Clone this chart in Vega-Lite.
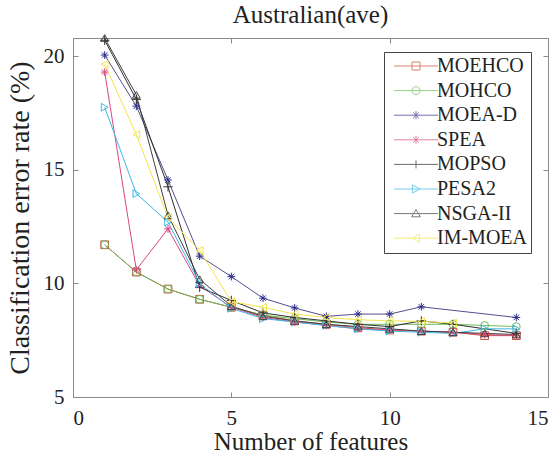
{
  "$schema": "https://vega.github.io/schema/vega-lite/v6.json",
  "width": 475,
  "height": 359,
  "autosize": {"type": "none"},
  "padding": {"left": 73, "top": 38, "right": 11, "bottom": 61},
  "background": "white",
  "title": {"text": "Australian(ave)", "font": "Liberation Serif", "fontSize": 25, "fontWeight": "normal", "color": "#222222", "offset": 5},
  "config": {
    "view": {"stroke": "#8a8a8a", "strokeWidth": 1},
    "axis": {"grid": false, "domain": false, "tickColor": "#8a8a8a", "tickSize": -5, "labelFont": "Liberation Serif", "labelFontSize": 21, "labelColor": "#222222", "titleFont": "Liberation Serif", "titleFontSize": 25, "titleFontWeight": "normal", "titleColor": "#222222"}
  },
  "datasets": {
    "d": [
      {"a": "MOEHCO", "x": 1, "y": 11.7}, {"a": "MOEHCO", "x": 2, "y": 10.5}, {"a": "MOEHCO", "x": 3, "y": 9.75}, {"a": "MOEHCO", "x": 4, "y": 9.3}, {"a": "MOEHCO", "x": 5, "y": 8.95}, {"a": "MOEHCO", "x": 6, "y": 8.6}, {"a": "MOEHCO", "x": 7, "y": 8.35}, {"a": "MOEHCO", "x": 8, "y": 8.2}, {"a": "MOEHCO", "x": 9, "y": 8.05}, {"a": "MOEHCO", "x": 10, "y": 7.95}, {"a": "MOEHCO", "x": 11, "y": 7.9}, {"a": "MOEHCO", "x": 12, "y": 7.85}, {"a": "MOEHCO", "x": 13, "y": 7.7}, {"a": "MOEHCO", "x": 14, "y": 7.7},
      {"a": "MOHCO", "x": 1, "y": 11.7}, {"a": "MOHCO", "x": 2, "y": 10.5}, {"a": "MOHCO", "x": 3, "y": 9.75}, {"a": "MOHCO", "x": 4, "y": 9.3}, {"a": "MOHCO", "x": 5, "y": 8.95}, {"a": "MOHCO", "x": 6, "y": 8.6}, {"a": "MOHCO", "x": 7, "y": 8.45}, {"a": "MOHCO", "x": 8, "y": 8.3}, {"a": "MOHCO", "x": 9, "y": 8.2}, {"a": "MOHCO", "x": 10, "y": 8.2}, {"a": "MOHCO", "x": 11, "y": 8.2}, {"a": "MOHCO", "x": 12, "y": 8.2}, {"a": "MOHCO", "x": 13, "y": 8.15}, {"a": "MOHCO", "x": 14, "y": 8.1},
      {"a": "MOEA-D", "x": 1, "y": 20.05}, {"a": "MOEA-D", "x": 2, "y": 17.8}, {"a": "MOEA-D", "x": 3, "y": 14.55}, {"a": "MOEA-D", "x": 4, "y": 11.2}, {"a": "MOEA-D", "x": 5, "y": 10.3}, {"a": "MOEA-D", "x": 6, "y": 9.35}, {"a": "MOEA-D", "x": 7, "y": 8.92}, {"a": "MOEA-D", "x": 8, "y": 8.55}, {"a": "MOEA-D", "x": 9, "y": 8.65}, {"a": "MOEA-D", "x": 10, "y": 8.65}, {"a": "MOEA-D", "x": 11, "y": 8.97}, {"a": "MOEA-D", "x": 14, "y": 8.5},
      {"a": "SPEA", "x": 1, "y": 19.3}, {"a": "SPEA", "x": 2, "y": 10.6}, {"a": "SPEA", "x": 3, "y": 12.4}, {"a": "SPEA", "x": 4, "y": 9.9}, {"a": "SPEA", "x": 5, "y": 8.95}, {"a": "SPEA", "x": 6, "y": 8.5}, {"a": "SPEA", "x": 7, "y": 8.3}, {"a": "SPEA", "x": 8, "y": 8.15}, {"a": "SPEA", "x": 9, "y": 8.0}, {"a": "SPEA", "x": 10, "y": 7.95}, {"a": "SPEA", "x": 11, "y": 7.9}, {"a": "SPEA", "x": 12, "y": 7.85}, {"a": "SPEA", "x": 13, "y": 7.75}, {"a": "SPEA", "x": 14, "y": 7.7},
      {"a": "MOPSO", "x": 1, "y": 20.7}, {"a": "MOPSO", "x": 2, "y": 18.1}, {"a": "MOPSO", "x": 3, "y": 14.25}, {"a": "MOPSO", "x": 4, "y": 9.83}, {"a": "MOPSO", "x": 5, "y": 9.25}, {"a": "MOPSO", "x": 6, "y": 8.7}, {"a": "MOPSO", "x": 7, "y": 8.5}, {"a": "MOPSO", "x": 8, "y": 8.35}, {"a": "MOPSO", "x": 9, "y": 8.2}, {"a": "MOPSO", "x": 10, "y": 8.1}, {"a": "MOPSO", "x": 11, "y": 8.35}, {"a": "MOPSO", "x": 12, "y": 8.2}, {"a": "MOPSO", "x": 14, "y": 7.8},
      {"a": "PESA2", "x": 1, "y": 17.75}, {"a": "PESA2", "x": 2, "y": 13.95}, {"a": "PESA2", "x": 3, "y": 12.7}, {"a": "PESA2", "x": 4, "y": 10.0}, {"a": "PESA2", "x": 5, "y": 8.9}, {"a": "PESA2", "x": 6, "y": 8.45}, {"a": "PESA2", "x": 7, "y": 8.3}, {"a": "PESA2", "x": 8, "y": 8.15}, {"a": "PESA2", "x": 9, "y": 8.0}, {"a": "PESA2", "x": 10, "y": 7.9}, {"a": "PESA2", "x": 11, "y": 7.85}, {"a": "PESA2", "x": 12, "y": 7.8}, {"a": "PESA2", "x": 13, "y": 8.0}, {"a": "PESA2", "x": 14, "y": 8.0},
      {"a": "NSGA-II", "x": 1, "y": 20.8}, {"a": "NSGA-II", "x": 2, "y": 18.3}, {"a": "NSGA-II", "x": 3, "y": 13.0}, {"a": "NSGA-II", "x": 4, "y": 10.18}, {"a": "NSGA-II", "x": 5, "y": 9.0}, {"a": "NSGA-II", "x": 6, "y": 8.55}, {"a": "NSGA-II", "x": 7, "y": 8.35}, {"a": "NSGA-II", "x": 8, "y": 8.2}, {"a": "NSGA-II", "x": 9, "y": 8.1}, {"a": "NSGA-II", "x": 10, "y": 8.0}, {"a": "NSGA-II", "x": 11, "y": 7.9}, {"a": "NSGA-II", "x": 12, "y": 7.85}, {"a": "NSGA-II", "x": 13, "y": 7.8}, {"a": "NSGA-II", "x": 14, "y": 7.75},
      {"a": "IM-MOEA", "x": 1, "y": 19.65}, {"a": "IM-MOEA", "x": 2, "y": 16.55}, {"a": "IM-MOEA", "x": 3, "y": 12.9}, {"a": "IM-MOEA", "x": 4, "y": 11.45}, {"a": "IM-MOEA", "x": 5, "y": 9.2}, {"a": "IM-MOEA", "x": 6, "y": 8.95}, {"a": "IM-MOEA", "x": 7, "y": 8.65}, {"a": "IM-MOEA", "x": 8, "y": 8.5}, {"a": "IM-MOEA", "x": 9, "y": 8.4}, {"a": "IM-MOEA", "x": 10, "y": 8.35}, {"a": "IM-MOEA", "x": 11, "y": 8.33}, {"a": "IM-MOEA", "x": 12, "y": 8.25}
    ]
  },
  "data": {"name": "d"},
  "layer": [
    {
      "mark": {"type": "line", "strokeWidth": 1},
      "encoding": {
        "x": {"field": "x", "type": "quantitative", "scale": {"domain": [0, 15], "nice": false}, "axis": {"values": [0, 5, 10, 15], "title": "Number of features", "labelPadding": 15, "titlePadding": 1}},
        "y": {"field": "y", "type": "quantitative", "scale": {"domain": [5, 20.8], "nice": false, "zero": false}, "axis": {"values": [5, 10, 15, 20], "title": "Classification error rate (%)", "titleFontSize": 28, "labelPadding": 14, "titlePadding": 9}},
        "color": {"field": "a", "type": "nominal", "legend": null, "scale": {"domain": ["MOEHCO", "MOHCO", "MOEA-D", "SPEA", "MOPSO", "PESA2", "NSGA-II", "IM-MOEA"], "range": ["#c8503c", "#6dbb5a", "#574c8f", "#d9487f", "#303030", "#3cb8e8", "#404040", "#f5e44a"]}},
        "order": {"field": "x"}
      }
    },
    {
      "mark": {"type": "point", "filled": false, "strokeWidth": 1, "size": 60, "opacity": 1},
      "encoding": {
        "x": {"field": "x", "type": "quantitative", "axis": null},
        "y": {"field": "y", "type": "quantitative", "axis": null},
        "color": {"field": "a", "type": "nominal", "legend": null, "scale": {"domain": ["MOEHCO", "MOHCO", "MOEA-D", "SPEA", "MOPSO", "PESA2", "NSGA-II", "IM-MOEA"], "range": ["#c8503c", "#6dbb5a", "#2e2e8c", "#d9487f", "#303030", "#3cb8e8", "#404040", "#f5e44a"]}},
        "shape": {"field": "a", "type": "nominal", "legend": null, "scale": {"domain": ["MOEHCO", "MOHCO", "MOEA-D", "SPEA", "MOPSO", "PESA2", "NSGA-II", "IM-MOEA"], "range": ["square", "circle", "M-1,0L1,0M0,-1L0,1M-0.7,-0.7L0.7,0.7M-0.7,0.7L0.7,-0.7", "M-1,0L1,0M0,-1L0,1M-0.7,-0.7L0.7,0.7M-0.7,0.7L0.7,-0.7", "M-1.2,0L1.2,0M0,-1.2L0,1.2", "triangle-right", "triangle-up", "triangle-left"]}}
      }
    },
    {
      "transform": [{"filter": "datum.x < 0"}],
      "mark": {"type": "point", "filled": false, "strokeWidth": 1, "size": 64},
      "encoding": {
        "x": {"field": "x", "type": "quantitative", "axis": null},
        "y": {"field": "y", "type": "quantitative", "axis": null},
        "color": {"field": "a", "type": "nominal", "title": null, "scale": {"domain": ["MOEHCO", "MOHCO", "MOEA-D", "SPEA", "MOPSO", "PESA2", "NSGA-II", "IM-MOEA"], "range": ["#c8503c", "#6dbb5a", "#3a338c", "#d9487f", "#303030", "#3cb8e8", "#404040", "#f5e44a"]},
          "legend": {"orient": "none", "legendX": 311, "legendY": 14, "title": null, "padding": 4, "fillColor": "white", "strokeColor": "#444444", "labelFont": "Liberation Serif", "labelFontSize": 20, "labelColor": "#222222", "labelOffset": 29, "rowPadding": 4.6, "symbolSize": 64, "symbolStrokeWidth": 1}},
        "shape": {"field": "a", "type": "nominal", "title": null, "scale": {"domain": ["MOEHCO", "MOHCO", "MOEA-D", "SPEA", "MOPSO", "PESA2", "NSGA-II", "IM-MOEA"], "range": ["M-1,0H10M3.5,-1H5.5V1H3.5Z", "M-1,0H10M5.5,0A1,1,0,1,1,3.5,0A1,1,0,1,1,5.5,0", "M-1,0H10M4.5,-1V1M3.8,-0.7L5.2,0.7M3.8,0.7L5.2,-0.7", "M-1,0H10M4.5,-1V1M3.8,-0.7L5.2,0.7M3.8,0.7L5.2,-0.7", "M-1,0H10M4.5,-1V1", "M-1,0H10M3.6,-1L5.5,0L3.6,1Z", "M-1,0H10M4.5,-1L5.6,0.8L3.4,0.8Z", "M-1,0H10M5.4,-1L3.5,0L5.4,1Z"]},
          "legend": {"orient": "none", "legendX": 311, "legendY": 14, "title": null, "padding": 4, "fillColor": "white", "strokeColor": "#444444", "labelFont": "Liberation Serif", "labelFontSize": 20, "labelColor": "#222222", "labelOffset": 29, "rowPadding": 4.6, "symbolSize": 64, "symbolStrokeWidth": 1}}
      }
    },
    {
      "mark": {"type": "point", "opacity": 0},
      "encoding": {
        "x": {"field": "x", "type": "quantitative", "axis": {"orient": "top", "values": [0, 5, 10, 15], "labels": false, "title": null}},
        "y": {"field": "y", "type": "quantitative", "axis": {"orient": "right", "values": [5, 10, 15, 20], "labels": false, "title": null}}
      }
    }
  ],
  "resolve": {"axis": {"x": "independent", "y": "independent"}, "scale": {"color": "independent", "shape": "independent"}}
}
